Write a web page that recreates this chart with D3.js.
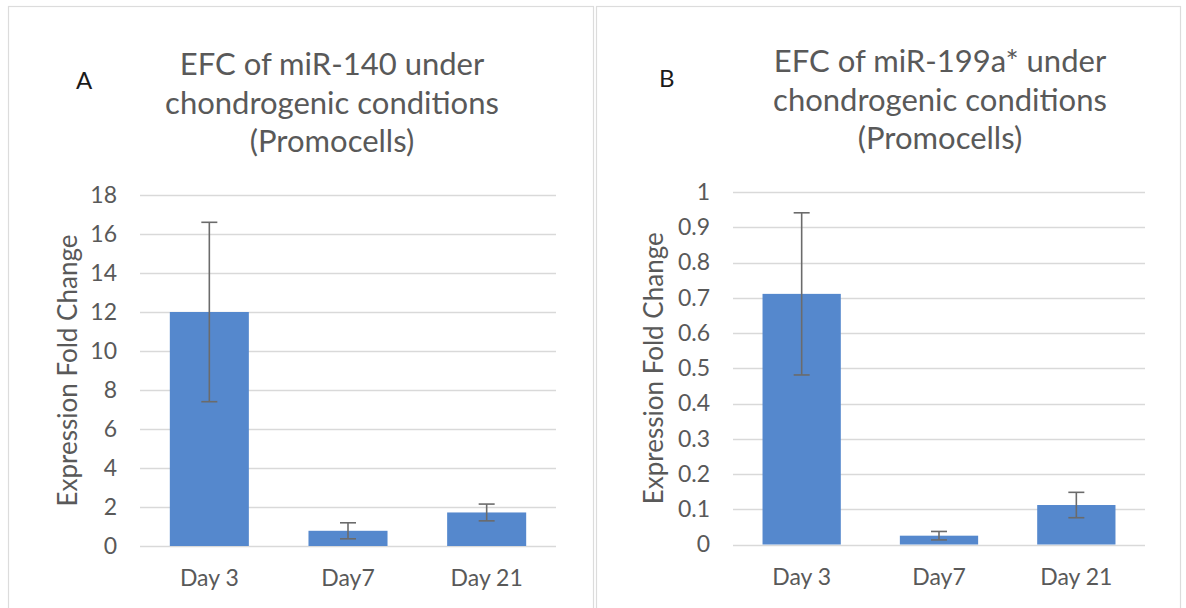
<!DOCTYPE html>
<html>
<head>
<meta charset="utf-8">
<script src="https://cdn.jsdelivr.net/npm/d3@7"></script>
<style>
  html, body { margin: 0; padding: 0; background: #fff; }
  svg { display: block; font-family: Lato, "Open Sans", sans-serif; }
</style>
</head>
<body>
<svg id="chart" width="1186" height="608"></svg>
<script>
// Sampling days shared by both panels
const days = ["Day 3", "Day7", "Day 21"];

// Panel A: miR-140 expression fold change and error
const mir140Values = [12.0, 0.78, 1.72];
const mir140Errors = [4.6, 0.41, 0.43];
const mir140Ticks = [0, 2, 4, 6, 8, 10, 12, 14, 16, 18];

// Panel B: miR-199a* expression fold change and error
const mir199Values = [0.711, 0.025, 0.112];
const mir199Errors = [0.230, 0.012, 0.036];
const mir199Ticks = [0, 0.1, 0.2, 0.3, 0.4, 0.5, 0.6, 0.7, 0.8, 0.9, 1];

const titleA = ["EFC of miR-140 under", "chondrogenic conditions", "(Promocells)"];
const titleB = ["EFC of miR-199a* under", "chondrogenic conditions", "(Promocells)"];

const svg = d3.select("#chart");

const BAR = "#5588cd";
const GRID = "#d9d9d9";
const TEXT = "#595959";
const ERR = "#6b6b6b";

function drawPanel(o) {
  const g = svg.append("g");

  // panel frame
  g.append("rect")
    .attr("x", o.frame[0] + 0.5).attr("y", o.frame[1] + 0.5)
    .attr("width", o.frame[2]).attr("height", o.frame[3])
    .attr("fill", "none").attr("stroke", "#dcdcdc").attr("stroke-width", 1.2);

  const x = d3.scaleBand().domain(days).range([o.left, o.right]).paddingInner(0.43).paddingOuter(0.215);
  const y = d3.scaleLinear().domain(o.domain).range([o.bottom, o.top]);

  // gridlines
  g.append("g").selectAll("line").data(o.ticks).join("line")
    .attr("x1", o.left).attr("x2", o.right)
    .attr("y1", d => Math.round(y(d)) + 0.5).attr("y2", d => Math.round(y(d)) + 0.5)
    .attr("stroke", GRID).attr("stroke-width", 1.3);

  // y axis tick labels
  const yAxis = d3.axisLeft(y).tickValues(o.ticks).tickSize(0).tickPadding(23)
    .tickFormat(d => String(+d.toFixed(2)));
  const ya = g.append("g").attr("transform", `translate(${o.left},0)`).call(yAxis);
  ya.select(".domain").remove();
  ya.selectAll("text").attr("fill", TEXT).style("font-size", "23px").style("font-family", "Lato, sans-serif");

  // bars
  g.append("g").selectAll("rect").data(o.values).join("rect")
    .attr("x", (d, i) => x(days[i]))
    .attr("width", x.bandwidth())
    .attr("y", d => y(d))
    .attr("height", d => y(0) - y(d))
    .attr("fill", BAR);

  // error bars
  const eb = g.append("g").attr("stroke", ERR).attr("stroke-width", 1.6).attr("fill", "none");
  o.values.forEach((v, i) => {
    const cx = x(days[i]) + x.bandwidth() / 2;
    const hi = y(v + o.errors[i]), lo = y(v - o.errors[i]);
    eb.append("line").attr("x1", cx).attr("x2", cx).attr("y1", hi).attr("y2", lo);
    eb.append("line").attr("x1", cx - 8).attr("x2", cx + 8).attr("y1", hi).attr("y2", hi);
    eb.append("line").attr("x1", cx - 8).attr("x2", cx + 8).attr("y1", lo).attr("y2", lo);
  });

  // x axis labels
  const xAxis = d3.axisBottom(x).tickSize(0).tickPadding(0);
  const xa = g.append("g").attr("transform", `translate(0,${o.bottom})`).call(xAxis);
  xa.select(".domain").remove();
  xa.selectAll("text").attr("fill", TEXT).attr("dy", null).attr("y", 40)
    .style("font-size", "23px").style("font-family", "Lato, sans-serif");

  // y axis title
  g.append("text")
    .attr("transform", `translate(${o.yTitleX},${(o.top + o.bottom) / 2}) rotate(-90)`)
    .attr("text-anchor", "middle")
    .attr("fill", TEXT).style("font-size", "26px")
    .text("Expression Fold Change");

  // chart title
  g.append("text").attr("text-anchor", "middle").attr("fill", TEXT).style("font-size", "31px")
    .selectAll("tspan").data(o.title).join("tspan")
    .attr("x", o.titleX).attr("y", (d, i) => o.titleY + i * 38.5)
    .text(d => d);

  // panel letter
  g.append("text").attr("x", o.letter[1]).attr("y", o.letter[2])
    .attr("fill", "#1a1a1a").style("font-size", "24px").text(o.letter[0]);
}

drawPanel({
  frame: [8, 6, 585, 620],
  left: 140, right: 556, top: 195, bottom: 546,
  domain: [0, 18], ticks: mir140Ticks,
  values: mir140Values, errors: mir140Errors,
  yTitleX: 77, title: titleA, titleX: 332, titleY: 75,
  letter: ["A", 76, 89]
});

drawPanel({
  frame: [596, 6, 584, 620],
  left: 733, right: 1145, top: 192, bottom: 544.5,
  domain: [0, 1], ticks: mir199Ticks,
  values: mir199Values, errors: mir199Errors,
  yTitleX: 663, title: titleB, titleX: 940, titleY: 72,
  letter: ["B", 659, 87]
});
</script>
</body>
</html>
